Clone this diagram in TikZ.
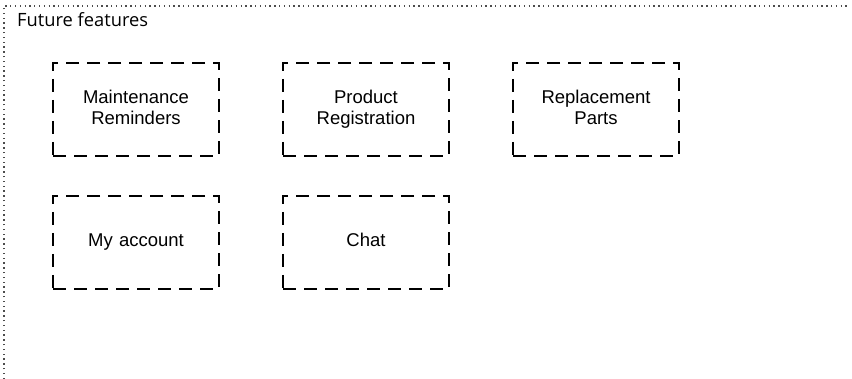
\documentclass[tikz,border=0pt]{standalone}
\usepackage{fontspec}
\setmainfont{Liberation Sans}
\newfontfamily\titlefont{Open Sans}
\usetikzlibrary{positioning}
\tikzstyle{feat} = [rectangle, draw, line width=2pt, dash pattern=on 13pt off 8pt, minimum width=166pt, minimum height=93pt, text width=150pt, align=center, font=\fontsize{18.5}{21}\selectfont, execute at begin node=\strut, execute at end node=\strut]
\tikzstyle{frame} = [draw=black!70, line width=1.3pt, dash pattern=on 1.3pt off 3.5pt]

\begin{document}
\begin{tikzpicture}[x=1pt, y=-1pt, node distance=38pt and 62pt]
  \useasboundingbox (0,0) rectangle (852,379);
  \draw [frame] (4,379) -- (4,6) -- (848,6);
  \node (title) [anchor=base west, inner sep=0pt, font=\titlefont\fontsize{18.3}{21}\selectfont] at (17,27) {Future features};
  \node (maint) [feat] at (136,109.5) {Maintenance\\Reminders};
  \node (reg) [feat, right=of maint] {Product\\Registration};
  \node (parts) [feat, right=of reg] {Replacement\\Parts};
  \node (account) [feat, below=of maint] {My account};
  \node (chat) [feat, right=of account] {Chat};
\end{tikzpicture}
\end{document}
